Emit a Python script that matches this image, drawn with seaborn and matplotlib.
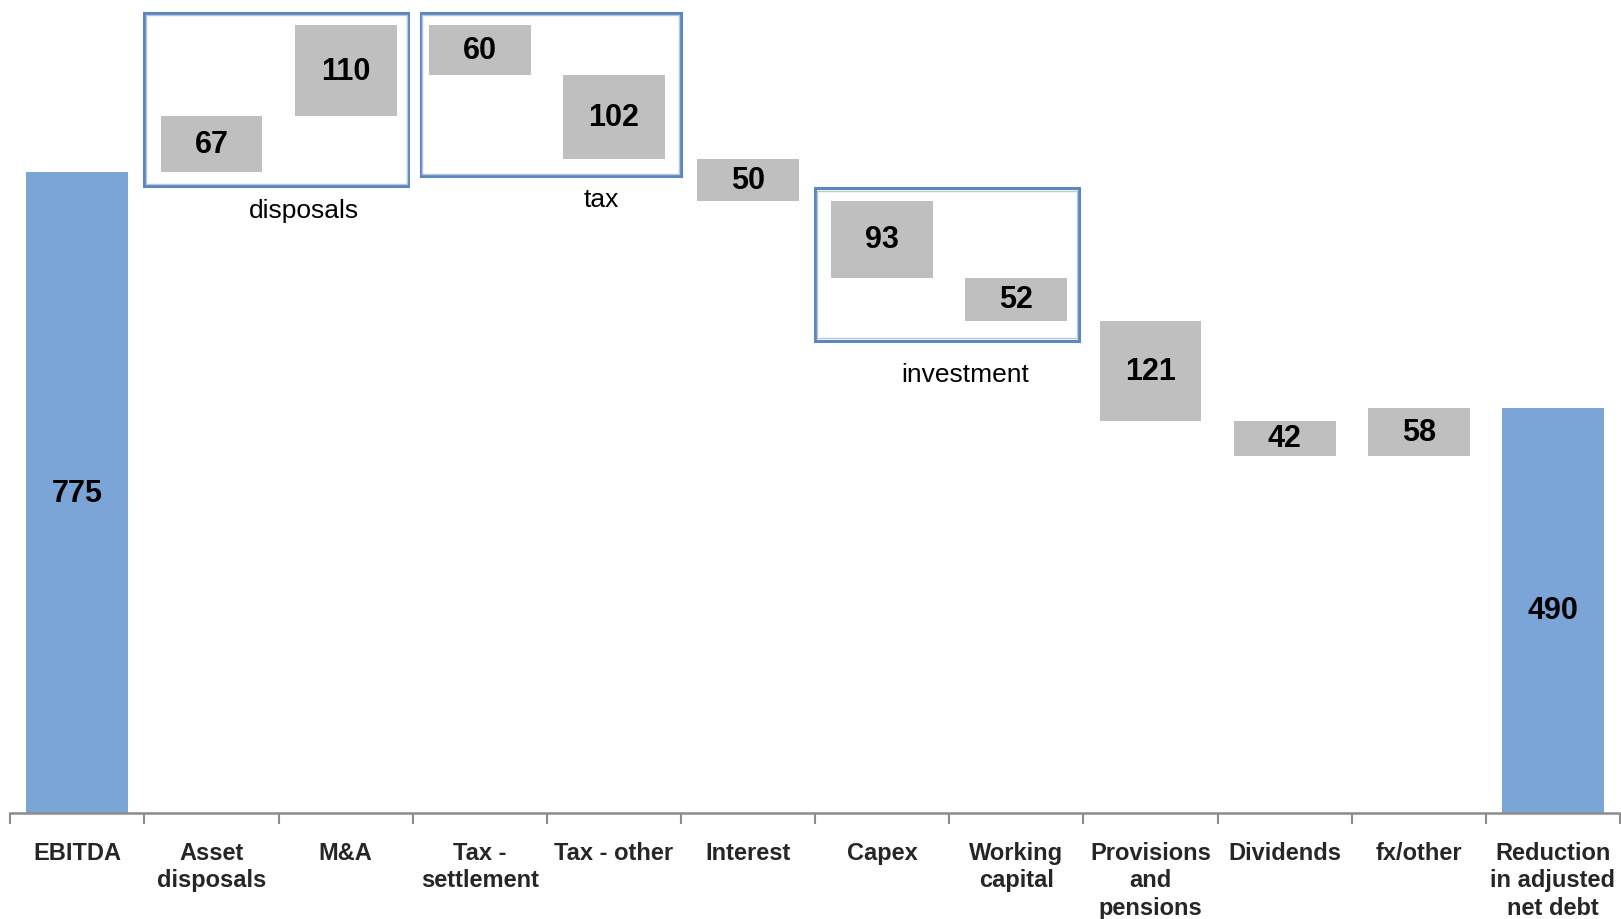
import numpy as np
import pandas as pd
import matplotlib
matplotlib.use("Agg")
import matplotlib.pyplot as plt
from matplotlib.patches import Rectangle
import seaborn as sns

# ---- data ----
categories = ["EBITDA", "Asset\ndisposals", "M&A", "Tax -\nsettlement", "Tax - other",
              "Interest", "Capex", "Working\ncapital", "Provisions\nand\npensions",
              "Dividends", "fx/other", "Reduction\nin adjusted\nnet debt"]
values = [775, 67, 110, -60, -102, -50, -93, -52, -121, -42, 58, 490]
is_total = [True, False, False, False, False, False, False, False, False, False, False, True]
group_names = ["disposals", "tax", "investment"]

# ---- derived waterfall geometry ----
bottoms, heights = [], []
running = 0
for v, t in zip(values, is_total):
    if t:
        bottoms.append(0); heights.append(v); running = v
    else:
        if v >= 0:
            bottoms.append(running); heights.append(v)
        else:
            bottoms.append(running + v); heights.append(-v)
        running += v

BLUE = "#7BA5D7"
GREY = "#BFBFBF"
colors = [BLUE if t else GREY for t in is_total]

sns.set_theme(style="white")
plt.rcParams['font.family'] = ['Liberation Sans', 'DejaVu Sans']

fig = plt.figure(figsize=(16.21, 9.2), dpi=100)
ax = fig.add_axes([10.3 / 1621, 0.1150, (1620 - 10.3) / 1621, 0.8833])

df = pd.DataFrame({"cat": categories, "h": heights})
sns.barplot(data=df, x="cat", y="h", hue="cat", palette=colors, legend=False,
            width=0.76, saturation=1, ax=ax, order=categories, hue_order=categories)

for p, b in zip(ax.patches, bottoms):
    p.set_y(b)
    p.set_edgecolor("none")

for i, (b, h, v) in enumerate(zip(bottoms, heights, values)):
    ax.text(i, b + h / 2, f"{abs(v)}", ha="center", va="center",
            fontsize=22, fontweight="bold", color="black")

ax.set_xlim(-0.5, len(categories) - 0.5)
ax.set_ylim(0, 982)
ax.set_xlabel("")
ax.set_ylabel("")
ax.set_yticks([])
for s in ["top", "right", "left"]:
    ax.spines[s].set_visible(False)
ax.spines["bottom"].set_color("#8C8C8C")
ax.spines["bottom"].set_linewidth(1.8)

ax.set_xticks(range(len(categories)))
ax.set_xticklabels(categories, fontsize=17, fontweight="bold", linespacing=1.25, va="top")
ax.tick_params(axis="x", which="major", length=0, pad=20)
ax.set_xticks(np.arange(-0.5, len(categories), 1.0), minor=True)
ax.tick_params(axis="x", which="minor", length=8, width=1.5, color="#8C8C8C", bottom=True)

# group boxes (layout)
boxes = [(0.5, 2.466, 757.5, 967.5), (2.558, 4.5, 770, 967.5), (5.5, 7.466, 571, 755)]
label_pos = [(1.69, 729), (3.907, 742), (6.62, 531)]
for (x0, x1, y0, y1), name, (lx, ly) in zip(boxes, group_names, label_pos):
    ax.add_patch(Rectangle((x0, y0), x1 - x0, y1 - y0, fill=False,
                           edgecolor="#5B86C0", linewidth=2.2, clip_on=False, zorder=3))
    ax.add_patch(Rectangle((x0 + 0.012, y0 + 3), x1 - x0 - 0.024, y1 - y0 - 6, fill=False,
                           edgecolor="#B7C7DD", linewidth=1.0, clip_on=False, zorder=3))
    ax.text(lx, ly, name, ha="center", va="center", fontsize=19, color="black")

fig.savefig("out.png", dpi=100)
